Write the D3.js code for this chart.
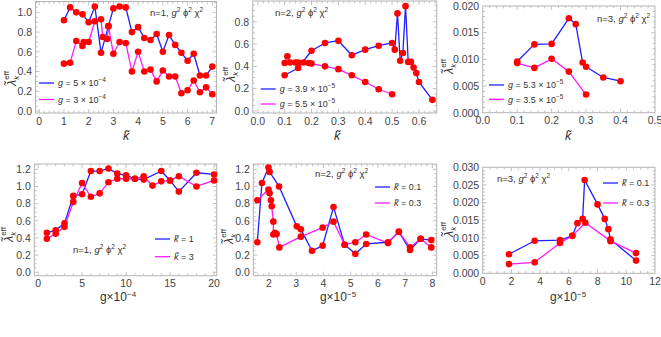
<!DOCTYPE html>
<html>
<head>
<meta charset="utf-8">
<script src="https://cdn.jsdelivr.net/npm/d3@7"></script>
<style>
  body { margin: 0; background: #fff; }
  svg { display: block; font-family: "Liberation Sans", Arial, sans-serif; }
</style>
</head>
<body>
<div id="chart"></div>
<script>
// ---- données ----
// n=1, en fonction de k
const p1kBlue = [1, 1.25, 1.5, 1.75, 2, 2.25, 2.5, 2.8, 3, 3.25, 3.5, 3.75, 4, 4.25, 4.5, 4.75, 5, 5.25, 5.5, 5.75, 6, 6.25, 6.5, 6.75, 7];
const p1vBlue = [0.92, 1.05, 1.0, 0.98, 0.90, 1.06, 0.59, 0.86, 1.04, 1.06, 1.05, 0.80, 0.85, 0.74, 0.72, 0.78, 0.60, 0.77, 0.67, 0.59, 0.51, 0.58, 0.36, 0.36, 0.45];
const p1kMag = [1, 1.25, 1.5, 1.75, 1.8, 2, 2.25, 2.5, 2.57, 2.75, 2.8, 3, 3.25, 3.5, 3.75, 4, 4.25, 4.5, 4.75, 5, 5.25, 5.5, 5.75, 6, 6.25, 6.5, 6.75, 7];
const p1vMag = [0.48, 0.49, 0.71, 0.66, 0.70, 0.70, 0.91, 0.93, 0.75, 0.73, 0.86, 0.58, 0.70, 0.69, 0.40, 0.60, 0.40, 0.42, 0.30, 0.41, 0.35, 0.35, 0.18, 0.21, 0.31, 0.19, 0.24, 0.17];

// n=2, en fonction de k
const p2kBlue = [0.10, 0.15, 0.20, 0.25, 0.30, 0.35, 0.40, 0.45, 0.50, 0.51, 0.52, 0.53, 0.54, 0.55, 0.56, 0.57, 0.58, 0.59, 0.60, 0.65];
const p2vBlue = [0.32, 0.385, 0.54, 0.61, 0.63, 0.50, 0.55, 0.585, 0.61, 0.55, 0.875, 0.45, 0.52, 0.94, 0.44, 0.44, 0.39, 0.34, 0.26, 0.10];
const p2kMag = [0.10, 0.11, 0.12, 0.14, 0.15, 0.17, 0.19, 0.20, 0.25, 0.30, 0.35, 0.40, 0.45, 0.50];
const p2vMag = [0.43, 0.49, 0.435, 0.435, 0.435, 0.435, 0.43, 0.425, 0.40, 0.375, 0.32, 0.26, 0.195, 0.15];

// n=3, en fonction de k
const p3kBlue = [0.10, 0.15, 0.20, 0.25, 0.27, 0.29, 0.30, 0.35, 0.40];
const p3vBlue = [0.0096, 0.0128, 0.0129, 0.0177, 0.0166, 0.0094, 0.0086, 0.0066, 0.0059];
const p3kMag = [0.10, 0.15, 0.20, 0.25, 0.30];
const p3vMag = [0.0093, 0.0084, 0.0101, 0.0077, 0.0034];

// n=1, en fonction de g (x 10^-4)
const p4gBlue = [1, 2, 3, 4, 5, 6, 7, 8, 9, 10, 11, 12, 14, 15, 16, 18, 20];
const p4vBlue = [0.46, 0.49, 0.57, 0.89, 0.91, 1.18, 1.18, 1.21, 1.15, 1.13, 1.09, 1.08, 1.18, 1.07, 0.94, 1.16, 1.14];
const p4gMag = [1, 2, 3, 4, 5, 6, 7, 8, 9, 10, 11, 12, 13, 14, 15, 16, 18, 20];
const p4vMag = [0.39, 0.45, 0.53, 0.82, 1.04, 0.88, 0.92, 1.05, 1.09, 1.09, 1.09, 1.12, 1.01, 1.06, 1.07, 1.12, 1.0, 1.07];

// n=2, en fonction de g (x 10^-5)
const p5gBlue = [1.57, 1.74, 1.98, 2.02, 2.37, 3.02, 3.17, 3.58, 3.97, 4.37, 4.78, 5.17, 5.57, 6.37, 6.77, 7.18, 7.57, 7.96];
const p5vBlue = [0.35, 1.04, 1.22, 1.17, 1.0, 0.535, 0.50, 0.25, 0.31, 0.76, 0.32, 0.215, 0.33, 0.35, 0.47, 0.26, 0.39, 0.375];
const p5gMag = [1.57, 1.98, 2.02, 2.07, 2.10, 2.16, 2.16, 2.22, 2.28, 2.38, 3.17, 3.97, 4.37, 4.78, 5.17, 5.57, 6.37, 6.77, 7.18, 7.57, 7.96];
const p5vMag = [0.84, 0.965, 0.92, 0.84, 0.77, 0.59, 0.44, 0.46, 0.445, 0.29, 0.415, 0.52, 0.59, 0.32, 0.35, 0.44, 0.34, 0.475, 0.29, 0.39, 0.29];

// n=3, en fonction de g (x 10^-5)
const p6gBlue = [1.83, 3.62, 5.38, 6.24, 6.6, 6.96, 7.1, 8.0, 8.5, 8.75, 8.9, 10.68];
const p6vBlue = [0.0054, 0.0092, 0.0094, 0.0106, 0.0142, 0.0154, 0.0264, 0.0195, 0.0154, 0.0125, 0.0096, 0.0036];
const p6gMag = [1.83, 3.62, 5.38, 6.24, 7.15, 8.9, 10.68];
const p6vMag = [0.0026, 0.0031, 0.0086, 0.0106, 0.0143, 0.0091, 0.0057];

// légendes
const legTop = [['5', '4'], ['3', '4'], ['3.9', '5'], ['5.5', '5'], ['5.3', '5'], ['3.5', '5']];
const legBottom = ['1', '3', '0.1', '0.3', '0.1', '0.3'];
const nLabels = ['1', '2', '3', '1', '2', '3'];

// ---- mise en page ----
const W = 661, H = 337;
const BLUE = '#1f1fff', MAG = '#ff1aff', RED = '#ff0000';

const svg = d3.select('#chart').append('svg')
  .attr('width', W).attr('height', H);

const panels = [
  { box: [35.5, 216.5, 1.5, 113], xDom: [-0.15, 7.17], yDom: [-0.02, 1.11],
    xt: [0, 7, 1], xm: 0.2, yt: [0, 1, 0.2], ym: 0.05, xf: '.0f', yf: '.1f',
    blue: [p1kBlue, p1vBlue], mag: [p1kMag, p1vMag],
    leg: { x: 39, y1: 83, y2: 99.5, kind: 'g', items: [legTop[0], legTop[1]] },
    ann: [150, 16, nLabels[0]], ylab: [16, 86], xlab: [126, 140, 'k'] },
  { box: [252.7, 436.7, 1, 113], xDom: [-0.019, 0.666], yDom: [-0.018, 0.986],
    xt: [0, 0.6, 0.1], xm: 0.02, yt: [0, 0.8, 0.2], ym: 0.05, xf: '.1f', yf: '.1f',
    blue: [p2kBlue, p2vBlue], mag: [p2kMag, p2vMag],
    leg: { x: 260.7, y1: 89, y2: 104, kind: 'g', items: [legTop[2], legTop[3]] },
    ann: [275, 16, nLabels[1]], ylab: [235, 82], xlab: [337, 140, 'k'] },
  { box: [482.7, 655, 6, 112.7], xDom: [0, 0.5], yDom: [0, 0.02],
    xt: [0, 0.5, 0.1], xm: 0.02, yt: [0, 0.02, 0.005], ym: 0.001, xf: '.1f', yf: '.3f',
    blue: [p3kBlue, p3vBlue], mag: [p3kMag, p3vMag],
    leg: { x: 489, y1: 85, y2: 99.3, kind: 'g', items: [legTop[4], legTop[5]] },
    ann: [597, 22, nLabels[2]], ylab: [453, 74], xlab: [568, 140, 'k'] },
  { box: [34.3, 216.7, 164, 275.7], xDom: [-0.43, 20.3], yDom: [-0.04, 1.262],
    xt: [0, 20, 5], xm: 1, yt: [0, 1.2, 0.2], ym: 0.05, xf: '.0f', yf: '.1f',
    blue: [p4gBlue, p4vBlue], mag: [p4gMag, p4vMag],
    leg: { x: 155, y1: 239, y2: 256.7, kind: 'k', items: [legBottom[0], legBottom[1]] },
    ann: [73, 253, nLabels[3]], ylab: [13, 242], xlab: [118, 301, '4'] },
  { box: [253.3, 436.7, 164, 275.7], xDom: [1.423, 8.16], yDom: [-0.04, 1.262],
    xt: [2, 8, 1], xm: 0.2, yt: [0, 1.2, 0.2], ym: 0.05, xf: '.0f', yf: '.1f',
    blue: [p5gBlue, p5vBlue], mag: [p5gMag, p5vMag],
    leg: { x: 375, y1: 187, y2: 203, kind: 'k', items: [legBottom[2], legBottom[3]] },
    ann: [315, 177, nLabels[4]], ylab: [233, 244], xlab: [338, 301, '5'] },
  { box: [482.7, 655, 167.3, 273.3], xDom: [0, 12], yDom: [0, 0.03],
    xt: [0, 12, 2], xm: 0.5, yt: [0, 0.03, 0.005], ym: 0.001, xf: '.0f', yf: '.3f',
    blue: [p6gBlue, p6vBlue], mag: [p6gMag, p6vMag],
    leg: { x: 603, y1: 183, y2: 203, kind: 'k', items: [legBottom[4], legBottom[5]] },
    ann: [497, 182, nLabels[5]], ylab: [453, 237], xlab: [568, 301, '5'] }
];

function ticksBetween(a, b, step) {
  const out = [];
  const n = Math.round((b - a) / step);
  for (let i = 0; i <= n; i++) out.push(+(a + i * step).toFixed(6));
  return out;
}

panels.forEach(p => {
  const [x0, x1, y0, y1] = p.box;
  const x = d3.scaleLinear().domain(p.xDom).range([x0, x1]);
  const y = d3.scaleLinear().domain(p.yDom).range([y1, y0]);
  const g = svg.append('g');

  // cadre
  g.append('rect').attr('x', x0).attr('y', y0)
    .attr('width', x1 - x0).attr('height', y1 - y0)
    .attr('fill', 'none').attr('stroke', '#b4b4b4').attr('stroke-width', 1);

  const xMaj = ticksBetween(p.xt[0], p.xt[1], p.xt[2]);
  const yMaj = ticksBetween(p.yt[0], p.yt[1], p.yt[2]);
  const lo = Math.ceil(p.xDom[0] / p.xm), hi = Math.floor(p.xDom[1] / p.xm);
  const xMin = d3.range(lo, hi + 1).map(i => +(i * p.xm).toFixed(6))
    .filter(v => !xMaj.some(m => Math.abs(m - v) < 1e-6));
  const lo2 = Math.ceil(p.yDom[0] / p.ym), hi2 = Math.floor(p.yDom[1] / p.ym);
  const yMin = d3.range(lo2, hi2 + 1).map(i => +(i * p.ym).toFixed(6))
    .filter(v => !yMaj.some(m => Math.abs(m - v) < 1e-6));

  // graduations vers l'intérieur, sur les quatre côtés
  const tk = g.append('g').attr('stroke', '#b4b4b4').attr('stroke-width', 0.8);
  const tick = (xa, ya, xb, yb) => tk.append('line')
    .attr('x1', xa).attr('y1', ya).attr('x2', xb).attr('y2', yb);
  [[xMaj, 4], [xMin, 2.3]].forEach(([arr, len]) => arr.forEach(v => {
    const px = x(v);
    if (px < x0 + 0.5 || px > x1 - 0.5) return;
    tick(px, y1, px, y1 - len);
    tick(px, y0, px, y0 + len);
  }));
  [[yMaj, 4], [yMin, 2.3]].forEach(([arr, len]) => arr.forEach(v => {
    const py = y(v);
    if (py < y0 + 0.5 || py > y1 - 0.5) return;
    tick(x0, py, x0 + len, py);
    tick(x1, py, x1 - len, py);
  }));

  // étiquettes des graduations
  g.append('g').selectAll('text').data(xMaj).join('text')
    .attr('x', d => x(d)).attr('y', y1 + 11.5)
    .attr('text-anchor', 'middle').attr('font-size', 10.5).attr('fill', '#444')
    .text(d => d3.format(p.xf)(d));
  g.append('g').selectAll('text').data(yMaj).join('text')
    .attr('x', x0 - 3.5).attr('y', d => y(d) + 3.8)
    .attr('text-anchor', 'end').attr('font-size', 10.5).attr('fill', '#444')
    .text(d => d3.format(p.yf)(d));

  // courbes
  const line = d3.line().x(d => x(d[0])).y(d => y(d[1]));
  const pts = s => s[0].map((v, i) => [v, s[1][i]]);
  [[p.blue, BLUE], [p.mag, MAG]].forEach(([s, c]) => {
    g.append('path').datum(pts(s)).attr('d', line)
      .attr('fill', 'none').attr('stroke', c).attr('stroke-width', 1.3)
      .attr('stroke-linejoin', 'round');
  });
  [p.blue, p.mag].forEach(s => {
    g.append('g').selectAll('circle').data(pts(s)).join('circle')
      .attr('cx', d => x(d[0])).attr('cy', d => y(d[1])).attr('r', 3.3)
      .attr('fill', RED);
  });

  // légende
  const L = p.leg;
  [[L.y1, BLUE, L.items[0]], [L.y2, MAG, L.items[1]]].forEach(([ly, c, it]) => {
    g.append('line').attr('x1', L.x).attr('x2', L.x + 15).attr('y1', ly).attr('y2', ly)
      .attr('stroke', c).attr('stroke-width', 1.3);
    const t = g.append('text').attr('x', L.x + 19).attr('y', ly + 3.3)
      .attr('font-size', 9).attr('fill', '#333');
    if (L.kind === 'g') {
      t.append('tspan').attr('font-style', 'italic').text('g');
      t.append('tspan').text(' = ' + it[0] + ' \u00d7 10');
      t.append('tspan').attr('font-size', 6.5).attr('dy', -4).text('\u2212' + it[1]);
    } else {
      t.append('tspan').attr('font-style', 'italic').text('k\u0303');
      t.append('tspan').text(' = ' + it);
    }
  });

  // annotation n=..
  const a = g.append('text').attr('x', p.ann[0]).attr('y', p.ann[1])
    .attr('font-size', 9.5).attr('fill', '#333');
  a.append('tspan').text('n=' + p.ann[2] + ', ');
  a.append('tspan').attr('font-style', 'italic').text('g');
  a.append('tspan').attr('font-size', 6.5).attr('dy', -4).text('2');
  a.append('tspan').attr('dy', 4).text(' \u03d5');
  a.append('tspan').attr('font-size', 6.5).attr('dy', -4).text('2');
  a.append('tspan').attr('dy', 4).text(' \u03c7');
  a.append('tspan').attr('font-size', 6.5).attr('dy', -4).text('2');

  // titre de l'axe y
  const yl = g.append('text')
    .attr('transform', `translate(${p.ylab[0]},${p.ylab[1]}) rotate(-90)`)
    .attr('font-size', 12.5).attr('fill', '#333');
  yl.append('tspan').attr('font-style', 'italic').text('\u03bb\u0303');
  yl.append('tspan').attr('font-style', 'italic').attr('font-size', 8).attr('dy', 2.5).text('k');
  yl.append('tspan').attr('font-size', 8).attr('dx', -4).attr('dy', -10).text('eff');

  // titre de l'axe x
  const xl = g.append('text').attr('x', p.xlab[0]).attr('y', p.xlab[1])
    .attr('text-anchor', 'middle').attr('font-size', 12).attr('fill', '#333');
  if (p.xlab[2] === 'k') {
    xl.attr('font-style', 'italic').attr('font-size', 12.5).text('k\u0303');
  } else {
    xl.append('tspan').text('g\u00d710');
    xl.append('tspan').attr('font-size', 8).attr('dy', -4.5).text('\u2212' + p.xlab[2]);
  }
});
</script>
</body>
</html>
